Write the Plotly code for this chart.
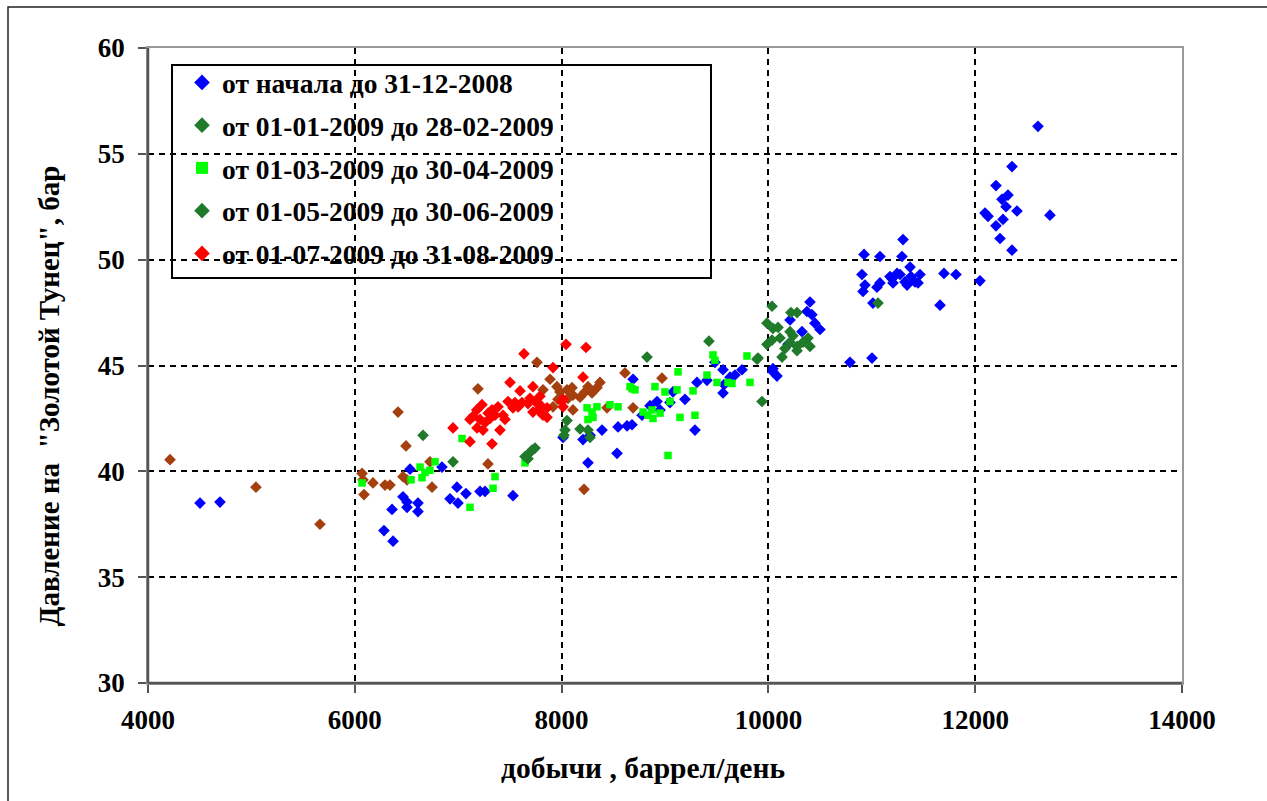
import plotly.graph_objects as go

# Production rate (barrels/day) vs. pressure (bar), grouped by period
blue_x = [4503, 4696, 6534, 6466, 6505, 6360, 6505, 6611, 6611, 6282, 6370, 6843, 6988, 6921, 6998,
          7075, 7211, 7259, 7530, 8014, 8207, 8275, 8391, 8255, 8536, 8546, 8633, 8681, 8778, 8855,
          8923, 8952, 9048, 9077, 9193, 9290, 9309, 9406, 9483, 9561, 9571, 9629, 9677, 8691, 9561,
          9745, 10044, 10083, 10044, 10402, 10373, 10421, 10450, 10499, 10325, 10209, 10190, 10789,
          11002, 12607, 12356, 12201, 12317, 12259, 12298, 12404, 12095, 12124, 12723, 12269, 12201,
          12240, 12356, 12046, 11302, 10925, 11079, 11292, 10905, 10934, 10915, 11050, 11079, 11176,
          11244, 11273, 11321, 11370, 11379, 11418, 11466, 11447, 11341, 11698, 11814, 11660, 11011,
          11195, 11205]
blue_y = [38.5, 38.55, 40.1, 38.8, 38.55, 38.2, 38.3, 38.5, 38.1, 37.2, 36.7, 40.2, 39.25, 38.7, 38.5,
          38.95, 39.05, 39.05, 38.85, 41.6, 41.5, 41.7, 41.95, 40.4, 40.85, 42.1, 42.15, 42.2, 42.65, 43.1,
          43.3, 42.9, 43.25, 43.75, 43.4, 41.95, 44.2, 44.3, 45.15, 44.8, 44.1, 44.45, 44.55, 44.35, 43.7,
          44.8, 44.7, 44.5, 44.85, 48.0, 47.55, 47.4, 47.0, 46.7, 46.6, 47.15, 46.0, 45.15,
          45.35, 56.3, 54.4, 53.5, 53.05, 52.85, 52.5, 52.3, 52.2, 52.05, 52.1, 51.9, 51.6,
          51.0, 50.45, 49.0, 50.95, 50.25, 50.15, 50.15, 49.3, 48.8, 48.5, 48.7, 48.9, 49.2,
          49.35, 49.3, 48.95, 49.65, 49.2, 48.95, 49.3, 48.9, 48.8, 49.35, 49.3, 47.85, 47.95,
          49.1, 48.9]

janfeb_x = [10035, 9986, 10044, 10093, 10277, 10035, 10112, 10209, 10238, 10209, 10277, 10335, 10383,
            10402, 9986, 10132, 9900, 10277, 10160, 9938, 9425, 8826, 9890, 10218, 11060]
janfeb_y = [47.8, 47.0, 46.75, 46.8, 47.5, 46.2, 46.3, 46.6, 46.4, 46.1, 45.9, 46.1, 46.3,
            45.9, 46.0, 45.4, 45.35, 45.7, 45.8, 43.3, 46.15, 45.4, 45.3, 47.5, 47.95]

marapr_x = [6070, 6631, 6679, 6727, 6650, 6544, 6776, 7037, 7356, 7337, 7114, 7646, 8246, 8294, 8304,
            8255, 8342, 8468, 8546, 8681, 8710, 8903, 9000, 9116, 9048, 9126, 9271, 9406, 9464, 9483,
            9503, 9609, 9648, 8788, 8835, 8884, 8874, 8952, 9145, 9290, 9029, 9793, 9822, 8662]
marapr_y = [39.45, 40.2, 39.95, 40.05, 39.7, 39.6, 40.45, 41.55, 39.75, 39.2, 38.3, 40.4, 43.0, 42.8, 42.55,
            42.45, 43.05, 43.15, 43.05, 43.9, 43.85, 44.0, 43.75, 43.85, 43.3, 44.7, 43.8, 44.55, 45.5, 45.25,
            44.2, 44.2, 44.15, 42.8, 42.65, 42.5, 42.9, 42.75, 42.55, 42.65, 40.75, 45.45, 44.2, 44.0]

mayjun_x = [8033, 8052, 8178, 8255, 8275, 7743, 7694, 7646, 7675, 6950, 6660, 8023, 7714]
mayjun_y = [41.95, 42.4, 42.0, 41.95, 41.6, 41.1, 40.9, 40.7, 40.6, 40.45, 41.7, 41.7, 41.0]

julaug_x = [8043, 8236, 7636, 7917, 8207, 7501, 7598, 7694, 7791, 7230, 7482, 7549, 7617, 7675, 7743,
            7791, 7772, 7723, 7820, 7859, 8004, 8014, 7327, 7385, 7356, 7433, 7453, 7308, 7259, 7211,
            7143, 7114, 7182, 7240, 7404, 6950, 7114, 7327, 7859, 7723, 7530, 7580, 8014, 7180, 7290]
julaug_y = [46.0, 45.85, 45.55, 44.9, 44.45, 44.2, 43.8, 43.45, 43.55, 43.15, 43.3, 43.25, 43.25, 43.2, 43.3,
            43.15, 42.9, 42.8, 42.65, 43.0, 43.3, 43.05, 42.9, 43.05, 42.65, 42.65, 42.45, 42.5, 42.3, 42.45,
            42.6, 42.45, 42.05, 41.95, 41.95, 42.05, 41.4, 41.3, 42.55, 44.0, 43.0, 43.05, 43.4, 42.9, 42.75]

other_x = [4213, 5044, 5663, 6418, 6495, 6070, 6079, 6176, 6292, 6340, 6089, 6466, 6505, 6727, 6747,
           7288, 7762, 7191, 8217, 7888, 7820, 7955, 7984, 8052, 8101, 8110, 8062, 8178, 8226, 8294,
           8342, 8371, 8255, 7917, 7965, 8110, 8439, 8613, 8971, 8691]
other_y = [40.55, 39.25, 37.5, 42.8, 41.2, 39.9, 39.6, 39.45, 39.35, 39.35, 38.9, 39.75, 39.6, 40.45, 39.25,
           40.35, 45.15, 43.9, 39.15, 44.35, 43.85, 44.0, 43.75, 43.85, 43.95, 43.6, 43.45, 43.5, 43.75, 43.7,
           43.95, 44.2, 44.0, 43.05, 43.4, 42.9, 43.0, 44.65, 44.4, 43.0]

names = ["от начала до 31-12-2008", "от 01-01-2009 до 28-02-2009", "от 01-03-2009 до 30-04-2009",
         "от 01-05-2009 до 30-06-2009", "от 01-07-2009 до 31-08-2009"]

x_title = "добычи , баррел/день"
y_title = 'Давление на  "Золотой Тунец", бар'

FONT = "Liberation Serif"

fig = go.Figure()

# brown period has no legend entry
fig.add_trace(go.Scatter(x=other_x, y=other_y, mode="markers", showlegend=False,
                         marker=dict(symbol="diamond", size=9, color="#A5400E")))

series = [
    (blue_x, blue_y, names[0], "#0000FF", "diamond", 9),
    (janfeb_x, janfeb_y, names[1], "#1F7A2A", "diamond", 9),
    (marapr_x, marapr_y, names[2], "#00FF00", "square", 7.5),
    (mayjun_x, mayjun_y, names[3], "#1F7A2A", "diamond", 9),
    (julaug_x, julaug_y, names[4], "#FF0000", "diamond", 9),
]
for i, (xs, ys, nm, col, sym, sz) in enumerate(series):
    fig.add_trace(go.Scatter(x=xs, y=ys, mode="markers", name=f"<b>{nm}</b>", legendgroup=f"g{i}",
                             legendrank=i + 1,
                             marker=dict(symbol=sym, size=sz, color=col)))

# helpers: pixel position -> paper coordinates of the plot area
L, R, T, B = 148, 1182, 48, 683
def px(xp):
    return (xp - L) / (R - L)
def py(yp):
    return (B - yp) / (B - T)

shapes = [
    # legend box
    dict(type="rect", xref="paper", yref="paper", x0=px(172), x1=px(711), y0=py(278), y1=py(65),
         line=dict(color="black", width=2), fillcolor="white", layer="between"),
    # outer frame
    dict(type="rect", xref="paper", yref="paper", x0=px(8), x1=px(1290), y0=py(820), y1=py(7),
         line=dict(color="#222", width=1.5), fillcolor="rgba(0,0,0,0)", layer="above"),
    # dark left and bottom axis lines
    dict(type="line", xref="paper", yref="paper", x0=0, x1=0, y0=0, y1=1,
         line=dict(color="#555", width=2.5), layer="above"),
    dict(type="line", xref="paper", yref="paper", x0=0, x1=1, y0=0, y1=0,
         line=dict(color="#555", width=2.5), layer="above"),
]

# axis titles placed as annotations (offset from the axis centre)
annotations = [
    dict(text=f"<b>{x_title}</b>", xref="paper", yref="paper", x=px(643), y=py(768),
         xanchor="center", yanchor="middle", showarrow=False,
         font=dict(family=FONT, size=29.5, color="black")),
    dict(text=f"<b>{y_title}</b>", xref="paper", yref="paper", x=px(48.5), y=py(396),
         xanchor="center", yanchor="middle", showarrow=False, textangle=-90,
         font=dict(family=FONT, size=29, color="black")),
]

fig.update_layout(
    width=1267, height=801,
    margin=dict(l=L, r=1267 - R, t=T, b=801 - B),
    paper_bgcolor="white", plot_bgcolor="white",
    font=dict(family=FONT, color="black"),
    shapes=shapes, annotations=annotations,
    legend=dict(x=px(182), y=py(58), xanchor="left", yanchor="top",
                bgcolor="rgba(0,0,0,0)", borderwidth=0,
                font=dict(family=FONT, size=27.5, color="black"),
                tracegroupgap=4, itemsizing="constant", itemwidth=30),
)

axis_common = dict(
    showline=True, linecolor="#9a9a9a", linewidth=1.5, mirror=True,
    showgrid=True, gridcolor="black", gridwidth=1.6, griddash="6px,5px",
    zeroline=False, ticks="outside", ticklen=8, tickcolor="#555", tickwidth=1.5,
    tickformat="d", tickprefix="<b>", ticksuffix="</b>",
    tickfont=dict(family=FONT, size=27, color="black"),
)

fig.update_xaxes(range=[4000, 14000], dtick=2000, tick0=4000, ticklabelstandoff=4, **axis_common)
fig.update_yaxes(range=[30, 60], dtick=5, tick0=30, ticklabelstandoff=8, **axis_common)

fig.write_html("out.html")
